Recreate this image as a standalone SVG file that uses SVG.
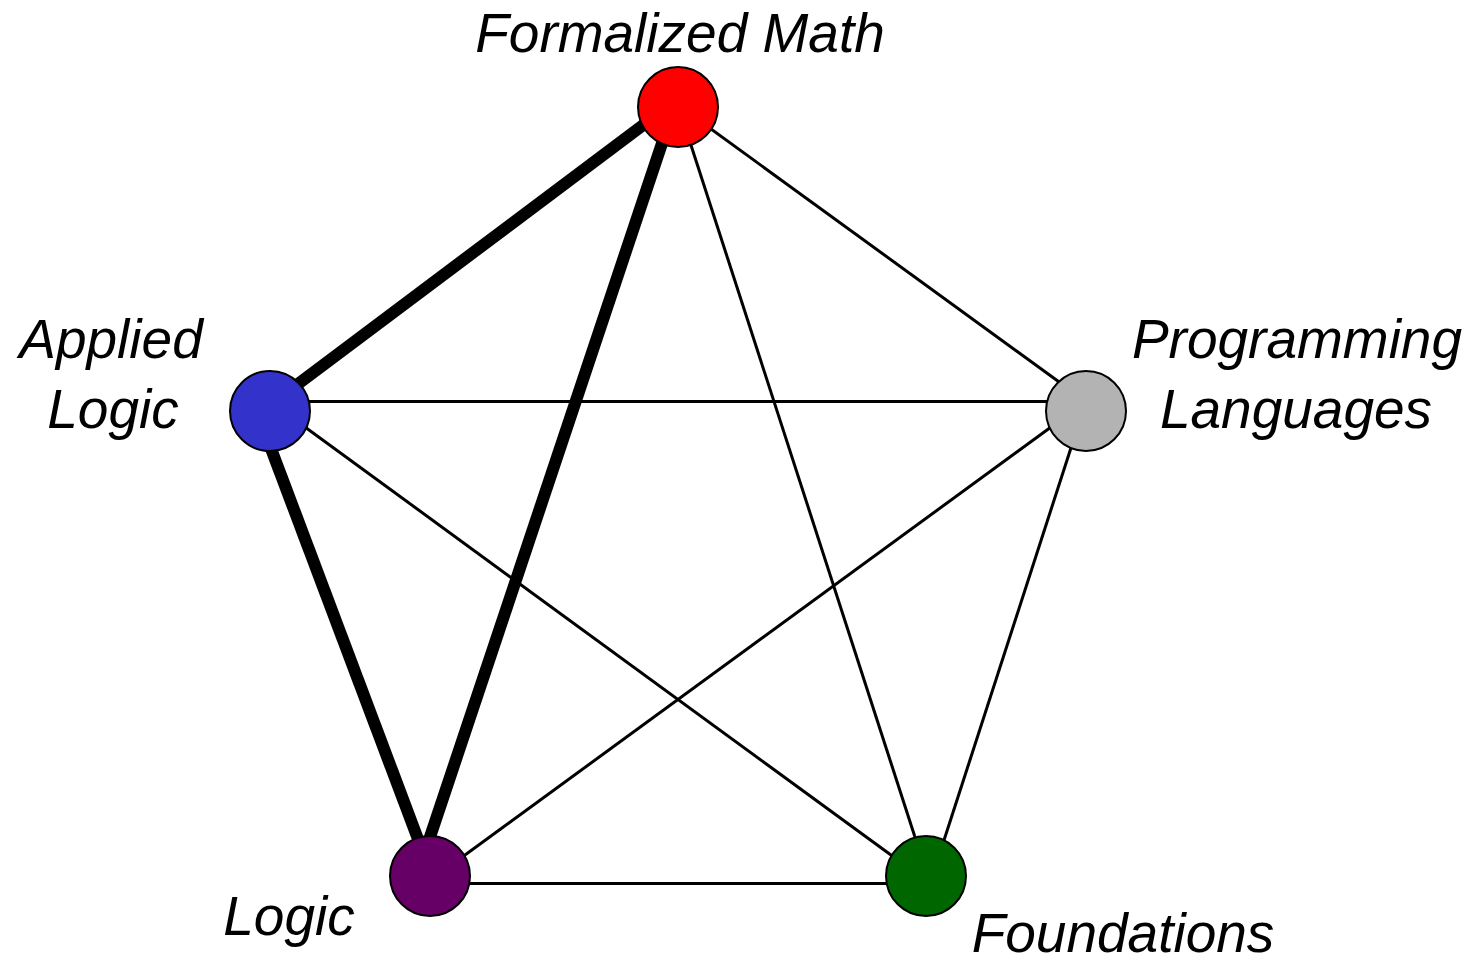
<svg xmlns="http://www.w3.org/2000/svg" width="1483" height="962" viewBox="0 0 1483 962">
<style>
.lbl{font-family:"Liberation Sans",Arial,sans-serif;font-style:italic;font-size:55px;fill:#000;text-anchor:middle}
.thin{stroke:#000;stroke-width:3;fill:none}
.thick{stroke:#000;stroke-width:12;fill:none}
.node{stroke:#000;stroke-width:2}
</style>
<rect width="1483" height="962" fill="#fff"/>
<g id="connectors">
<line class="thin" x1="678" y1="105" x2="1086" y2="401.5"/>
<line class="thin" x1="678" y1="105" x2="930" y2="883.5"/>
<line class="thin" x1="270" y1="401.5" x2="1086" y2="401.5"/>
<line class="thin" x1="270" y1="401.5" x2="930" y2="883.5"/>
<line class="thin" x1="1086" y1="401.5" x2="426" y2="883.5"/>
<line class="thin" x1="1086" y1="401.5" x2="930" y2="883.5"/>
<line class="thin" x1="426" y1="883.5" x2="930" y2="883.5"/>
<line class="thick" x1="676.5" y1="100" x2="258" y2="414"/>
<line class="thick" x1="676.5" y1="100" x2="424" y2="855"/>
<line class="thick" x1="258" y1="414" x2="424" y2="855"/>
</g>
<g id="formalized-math">
<circle class="node" cx="678" cy="107" r="40" fill="#ff0000"/>
<text class="lbl" x="680" y="52">Formalized Math</text>
</g>
<g id="applied-logic">
<circle class="node" cx="270" cy="411" r="40" fill="#3333cc"/>
<text class="lbl" x="111" y="358">Applied</text>
<text class="lbl" x="113" y="428">Logic</text>
</g>
<g id="programming-languages">
<circle class="node" cx="1086" cy="411" r="40" fill="#b3b3b3"/>
<text class="lbl" x="1297" y="358">Programming</text>
<text class="lbl" x="1296" y="428">Languages</text>
</g>
<g id="logic">
<circle class="node" cx="430" cy="876" r="40" fill="#660066"/>
<text class="lbl" x="289" y="935">Logic</text>
</g>
<g id="foundations">
<circle class="node" cx="926" cy="876" r="40" fill="#006600"/>
<text class="lbl" x="1123" y="952">Foundations</text>
</g>
</svg>
